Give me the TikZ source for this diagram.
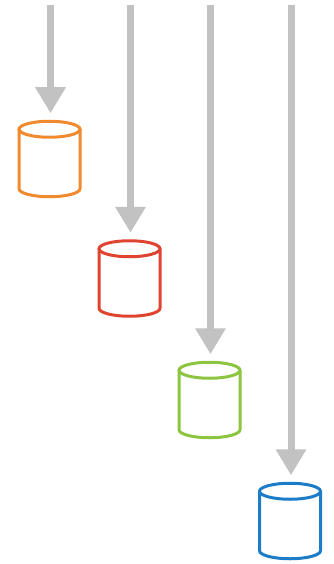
\documentclass[tikz,border=0pt]{standalone}
\usepackage{tikz}
\usetikzlibrary{calc,arrows.meta}
\definecolor{dbOrange}{HTML}{EF8A2E}
\definecolor{dbRed}{HTML}{DF4430}
\definecolor{dbGreen}{HTML}{8DC540}
\definecolor{dbBlue}{HTML}{1C7CC7}
\definecolor{feedGray}{HTML}{C2C2C2}

\begin{document}
\begin{tikzpicture}[x=1pt, y=-1pt,
  db/.style={minimum width=61pt, minimum height=75.5pt, inner sep=0pt, outer sep=0pt},
  feed/.style={draw=feedGray, line width=7pt,
    -{Triangle[width=29pt,length=26pt]}, shorten >=8pt}]
\useasboundingbox (0,0) rectangle (333,564);
\node[db] (1) at (49.5,159) {};
\node[db] (2) at (129.5,278.5) {};
\node[db] (3) at (209.5,400) {};
\node[db] (4) at (290,521) {};
% cylinder outlines
\foreach \i/\c in {1/dbOrange,2/dbRed,3/dbGreen,4/dbBlue}{
 \draw[\c, line width=3pt] ($(\i.north)+(0,8)$) ellipse [x radius=30.5pt, y radius=8pt];
 \draw[\c, line width=3pt, line join=round] ($(\i.north west)+(0,8)$) -- ($(\i.south west)+(0,-8)$)
  arc[start angle=180, end angle=360, x radius=30.5pt, y radius=8pt]
  -- ($(\i.north east)+(0,8)$);}
\foreach \i/\x in {1/50.5,2/130.5,3/210.5,4/291}{\coordinate (s\i) at (\x,5);
 \draw[feed] (s\i) -- (s\i |- \i.north);}

\end{tikzpicture}
\end{document}
